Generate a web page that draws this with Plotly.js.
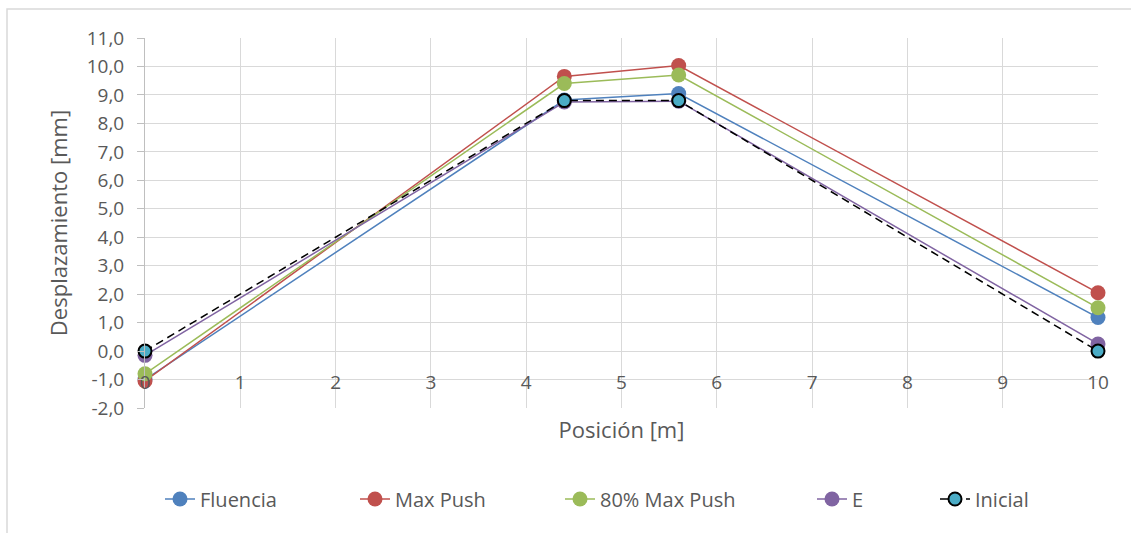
<!DOCTYPE html>
<html>
<head>
<meta charset="utf-8">
<script src="https://cdn.plot.ly/plotly-3.0.1.min.js"></script>
<style>
html, body { margin: 0; padding: 0; background: #ffffff; }
#chart { width: 1131px; height: 533px; }
</style>
</head>
<body>
<div id="chart"></div>
<script>
// Data
const positions = [0, 4.4, 5.6, 10];
const fluencia = [-1.0, 8.82, 9.05, 1.18];
const maxPush = [-1.05, 9.65, 10.03, 2.05];
const maxPush80 = [-0.8, 9.4, 9.7, 1.52];
const serieE = [-0.15, 8.75, 8.78, 0.25];
const inicial = [0.0, 8.8, 8.8, 0.0];

const seriesNames = ['Fluencia', 'Max Push', '80% Max Push', 'E', 'Inicial'];
const xTickVals = [0, 1, 2, 3, 4, 5, 6, 7, 8, 9, 10];
const xTickText = ['0', '1', '2', '3', '4', '5', '6', '7', '8', '9', '10'];
const yTickVals = [-2, -1, 0, 1, 2, 3, 4, 5, 6, 7, 8, 9, 10, 11];
const yTickText = ['-2,0', '-1,0', '0,0', '1,0', '2,0', '3,0', '4,0', '5,0', '6,0', '7,0', '8,0', '9,0', '10,0', '11,0'];

const FONT = '"Open Sans", "Noto Sans", sans-serif';
const GREY = '#595959';

function series(name, y, color, legendId, extra) {
  const t = {
    x: positions, y: y, name: name, type: 'scatter', mode: 'lines+markers',
    line: { color: color, width: 1.5 },
    marker: { color: color, size: 15 },
    cliponaxis: false,
    legend: legendId
  };
  return Object.assign(t, extra || {});
}

const traces = [
  series(seriesNames[0], fluencia, '#4F81BD', 'legend'),
  series(seriesNames[1], maxPush, '#C0504D', 'legend2'),
  series(seriesNames[2], maxPush80, '#9BBB59', 'legend3'),
  series(seriesNames[3], serieE, '#8064A2', 'legend4'),
  series(seriesNames[4], inicial, '#000000', 'legend5', {
    line: { color: '#000000', width: 1.5, dash: '8px,5px' },
    marker: { color: '#4BACC6', size: 13, line: { color: '#000000', width: 2 } }
  })
];

function legendAt(px) {
  return {
    orientation: 'h', xref: 'container', yref: 'container',
    x: px / 1131, y: 1 - 499 / 533, xanchor: 'left', yanchor: 'middle',
    font: { family: FONT, size: 20, color: GREY },
    bgcolor: 'rgba(0,0,0,0)', borderwidth: 0
  };
}

const layout = {
  width: 1131, height: 533,
  paper_bgcolor: '#ffffff', plot_bgcolor: '#ffffff',
  separators: ', ',
  margin: { l: 145, r: 33, t: 38, b: 125 },
  font: { family: FONT, color: GREY, size: 19 },
  showlegend: true,
  legend: legendAt(160),
  legend2: legendAt(355),
  legend3: legendAt(560),
  legend4: legendAt(812),
  legend5: legendAt(935),
  xaxis: {
    range: [0, 10], tickvals: xTickVals, ticktext: xTickText,
    showgrid: true, gridcolor: '#D9D9D9', gridwidth: 1,
    zeroline: false, showline: false, ticks: '',
    ticklabelstandoff: -39,
    tickfont: { family: FONT, size: 19, color: GREY },
    title: { text: 'Posición [m]', font: { family: FONT, size: 22, color: GREY }, standoff: 28 }
  },
  yaxis: {
    range: [-2, 11], tickvals: yTickVals, ticktext: yTickText,
    showgrid: true, gridcolor: '#D9D9D9', gridwidth: 1,
    zeroline: false, showline: true, linecolor: '#BFBFBF', linewidth: 1,
    ticks: 'outside', ticklen: 7, tickcolor: '#BFBFBF',
    ticklabelstandoff: 9,
    tickfont: { family: FONT, size: 19, color: GREY },
    title: { text: 'Desplazamiento [mm]', font: { family: FONT, size: 22, color: GREY }, standoff: 12 }
  },
  shapes: [{
    type: 'rect', xref: 'paper', yref: 'paper',
    x0: -0.1448, x1: 1.1, y0: -0.5, y1: 1.0784,
    line: { color: '#D9D9D9', width: 1.5 }, fillcolor: 'rgba(0,0,0,0)', layer: 'below'
  }]
};

Plotly.newPlot('chart', traces, layout, { displayModeBar: false, responsive: false });
</script>
</body>
</html>
